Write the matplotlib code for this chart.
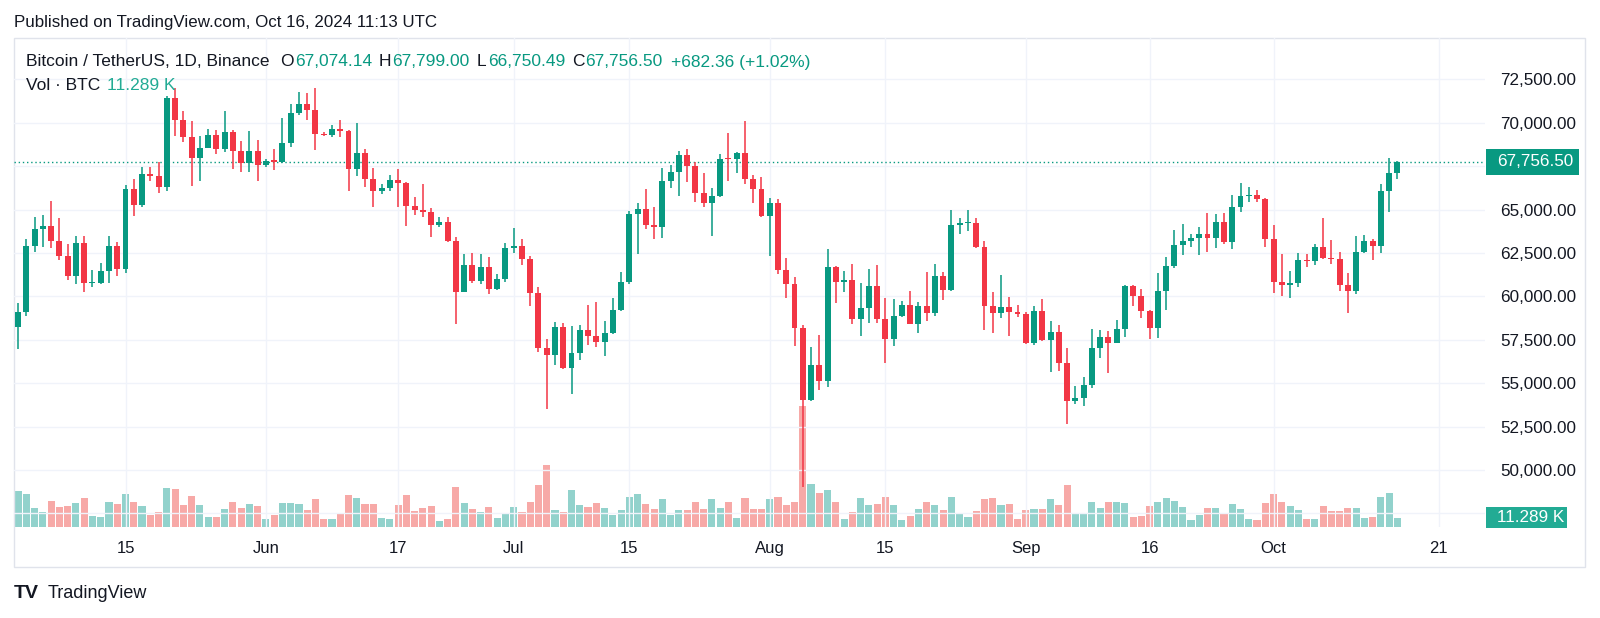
import pandas as pd
import matplotlib
matplotlib.use("Agg")
import matplotlib.pyplot as plt
import matplotlib.dates as mdates
from matplotlib.patches import Rectangle
from matplotlib.ticker import FuncFormatter

plt.rcParams['font.family'] = ['Liberation Sans', 'DejaVu Sans']

# BTC/USDT daily candles, May 2 - Oct 16 2024
start_date = '2024-05-02'
end_date = '2024-10-16'

opens = [58253, 59122, 62889, 63891, 64031, 63161, 62334, 61187, 63049, 60792,
         60793, 61448, 62901, 61552, 66206, 65235, 67024, 66915, 66274, 71446,
         70148, 69166, 67969, 68549, 69291, 68507, 69436, 68398, 67652, 68352,
         67540, 67766, 67765, 68809, 70567, 71082, 70757, 69342, 69305, 69648,
         69540, 67314, 68263, 66773, 66043, 66228, 66676, 66504, 65175, 64974,
         64828, 64096, 64252, 63180, 60277, 61804, 60864, 61706, 60427, 60986,
         62772, 62900, 62135, 60209, 57050, 56628, 58230, 55857, 56714, 58050,
         57725, 57345, 57899, 59230, 60797, 64725, 65044, 64088, 63988, 66661,
         67139, 68166, 67532, 65935, 65354, 65788, 67907, 67896, 68249, 66784,
         66188, 64628, 65354, 61498, 60697, 58161, 54018, 56022, 55134, 61685,
         60837, 60923, 58712, 59346, 60587, 58683, 57541, 58874, 59491, 58427,
         59438, 59013, 61156, 60381, 64103, 64220, 64240, 62834, 59416, 59034,
         59359, 59123, 58973, 57301, 59132, 57487, 57970, 56160, 53962, 54160,
         54869, 57042, 57635, 57338, 58127, 60571, 60005, 59182, 58192, 60309,
         61759, 62947, 63201, 63348, 63578, 63339, 64262, 63152, 65173, 65769,
         65858, 65602, 63327, 60805, 60649, 60752, 62086, 62058, 62819, 62224,
         62160, 60636, 60326, 62540, 63206, 62870, 66083, 67074.14]

highs = [59602, 63320, 64588, 64684, 65494, 64492, 63014, 63474, 63469, 61516,
         61938, 63474, 63110, 66412, 66738, 67468, 67430, 67718, 71515, 71979,
         70674, 70118, 69234, 69618, 69580, 70674, 69580, 68946, 69522, 69004,
         67910, 68486, 70290, 71078, 71788, 71730, 71997, 69484, 69868, 70156,
         69580, 70002, 68466, 67372, 66470, 66988, 67314, 66604, 65702, 66470,
         65068, 64588, 64588, 63398, 62438, 62514, 62438, 62246, 61266, 63090,
         63916, 63282, 62322, 60518, 57542, 58502, 58482, 58290, 58348, 59500,
         59692, 58578, 59884, 61420, 64914, 65394, 66162, 65164, 67372, 67564,
         68390, 68486, 67756, 67084, 66220, 68198, 69399, 68332, 70079, 66988,
         66854, 65682, 65606, 62188, 61132, 58348, 57062, 57772, 62706, 61746,
         61478, 61862, 60748, 61574, 61804, 59884, 59826, 59750, 60326, 59692,
         61420, 61862, 61420, 64972, 64530, 64972, 64492, 63206, 60268, 61228,
         59980, 59500, 59116, 59442, 59826, 58578, 58348, 57042, 54854, 55372,
         58118, 58060, 58002, 58636, 60652, 60652, 60402, 59212, 61362, 62284,
         63820, 64166, 63590, 64012, 64780, 64722, 64818, 65836, 66508, 66278,
         66124, 65644, 64108, 62418, 61458, 62514, 62438, 63014, 64530, 63244,
         62572, 61362, 63474, 63532, 63282, 66470, 67986, 67799.00]

lows = [56937, 58848, 62572, 62860, 62764, 62092, 60940, 60690, 60230, 60518,
        60690, 60786, 61170, 61362, 64626, 65164, 66642, 65932, 66066, 69234,
        68908, 66354, 66642, 68524, 68198, 68332, 67314, 67180, 67180, 66662,
        67430, 67276, 67660, 68620, 70444, 70156, 68428, 69254, 69158, 69196,
        66066, 66930, 66278, 65126, 65894, 66086, 65164, 64070, 64684, 64588,
        63436, 63974, 63100, 58402, 60268, 60748, 60710, 60134, 60364, 60806,
        62514, 61804, 59442, 56812, 53485, 56044, 55794, 54354, 56332, 57196,
        57100, 56562, 57810, 59174, 60690, 62438, 63858, 63282, 63340, 66220,
        65798, 66566, 65452, 65126, 63474, 65740, 66662, 67122, 66450, 65356,
        64588, 62302, 61286, 59922, 57158, 49000, 53990, 54604, 54796, 59596,
        60268, 58386, 57714, 58444, 58482, 56178, 57158, 58828, 58406, 57868,
        58598, 58866, 59788, 60326, 63590, 63782, 62764, 58060, 57906, 58732,
        57734, 58790, 57254, 57196, 57446, 55660, 55718, 52626, 53798, 53684,
        54700, 56428, 55602, 57292, 57676, 59442, 58732, 57522, 57618, 59212,
        61612, 62380, 62822, 62380, 62572, 62764, 62994, 62706, 64876, 65452,
        65452, 62860, 60210, 60038, 59884, 60518, 61708, 61804, 62130, 61862,
        60326, 59020, 60134, 62514, 62092, 62476, 64876, 66750.49]

closes = [59122, 62889, 63891, 64031, 63161, 62334, 61187, 63049, 60792, 60793,
          61448, 62901, 61552, 66206, 65235, 67024, 66915, 66274, 71446, 70148,
          69166, 67969, 68549, 69291, 68507, 69436, 68398, 67652, 68352, 67540,
          67766, 67765, 68809, 70567, 71082, 70757, 69342, 69305, 69648, 69540,
          67314, 68263, 66773, 66043, 66228, 66676, 66504, 65175, 64974, 64828,
          64096, 64252, 63180, 60277, 61804, 60864, 61706, 60427, 60986, 62772,
          62900, 62135, 60209, 57050, 56628, 58230, 55857, 56714, 58050, 57725,
          57345, 57899, 59230, 60797, 64725, 65044, 64088, 63988, 66661, 67139,
          68166, 67532, 65935, 65354, 65788, 67907, 67896, 68249, 66784, 66188,
          64628, 65354, 61498, 60697, 58161, 54018, 56022, 55134, 61685, 60837,
          60923, 58712, 59346, 60587, 58683, 57541, 58874, 59491, 58427, 59438,
          59013, 61156, 60381, 64103, 64220, 64240, 62834, 59416, 59034, 59359,
          59123, 58973, 57301, 59132, 57487, 57970, 56160, 53962, 54160, 54869,
          57042, 57635, 57338, 58127, 60571, 60005, 59182, 58192, 60309, 61759,
          62947, 63201, 63348, 63578, 63339, 64262, 63152, 65173, 65769, 65858,
          65602, 63327, 60805, 60649, 60752, 62086, 62058, 62819, 62224, 62160,
          60636, 60326, 62540, 63206, 62870, 66083, 67074.14, 67756.50]

# volume in thousands of BTC
volumes = [43.5, 39.9, 22.6, 17.7, 31.8, 23.8, 25.4, 28.6, 34.7, 13.7,
           12.5, 30.6, 27.4, 39.9, 29.8, 25.4, 14.5, 17.7, 46.7, 45.5,
           26.6, 37.9, 26.2, 12.5, 12.5, 21.4, 30.6, 23.4, 27.4, 25.4,
           9.3, 14.5, 28.6, 28.6, 27.4, 20.6, 33.4, 10.1, 10.1, 17.3,
           38.7, 34.7, 27.4, 27.4, 11.3, 10.1, 26.2, 38.7, 19.3, 22.6,
           25.4, 7.7, 9.3, 48.0, 29.4, 21.4, 17.7, 23.8, 11.3, 16.5,
           23.8, 17.7, 30.6, 50.4, 74.6, 20.6, 17.7, 44.7, 26.6, 23.8,
           28.6, 22.6, 14.5, 20.2, 36.7, 39.9, 27.4, 21.4, 33.4, 14.5,
           20.2, 20.2, 29.8, 21.4, 33.4, 22.6, 29.8, 11.3, 34.7, 21.4,
           21.4, 33.4, 36.7, 26.2, 29.8, 146.3, 51.6, 41.5, 44.7, 29.8,
           10.1, 17.7, 34.7, 26.6, 27.4, 35.9, 26.2, 8.5, 13.7, 21.4,
           29.8, 26.2, 20.6, 35.9, 16.1, 12.5, 19.3, 33.4, 34.7, 26.6,
           27.4, 9.3, 20.6, 21.4, 21.4, 33.4, 26.2, 50.4, 16.1, 16.1,
           30.6, 22.6, 30.6, 29.8, 28.6, 12.5, 13.7, 25.4, 30.6, 34.7,
           31.8, 23.8, 8.5, 14.5, 22.6, 22.6, 16.5, 27.4, 21.4, 10.1,
           8.5, 28.6, 40.3, 29.8, 25.4, 20.6, 9.3, 9.3, 25.4, 19.3,
           19.3, 22.6, 22.6, 11.3, 12.5, 35.9, 41.5, 11.289]

tick_dates = ['2024-05-15', '2024-06-01', '2024-06-17', '2024-07-01', '2024-07-15',
              '2024-08-01', '2024-08-15', '2024-09-01', '2024-09-16', '2024-10-01',
              '2024-10-21']
tick_labels = ['15', 'Jun', '17', 'Jul', '15', 'Aug', '15', 'Sep', '16', 'Oct', '21']
# 67,500 is covered by the last price tag, 47,500 by the volume tag
price_ticks = [50000, 52500, 55000, 57500, 60000, 62500, 65000, 70000, 72500]
grid_only_ticks = [47500, 67500]

GREEN = '#089981'
RED = '#f23645'
VOL_GREEN = '#92d2cc'
VOL_RED = '#f7a9a7'
TXT = '#131722'

W, H = 1600, 618
fig = plt.figure(figsize=(W / 100, H / 100), dpi=100)
fig.patch.set_facecolor('white')

def ftext(x, y, s, **kw):
    fig.text(x / W, 1 - y / H, s, va='center', **kw)

# pane: x 14..1485, y 38..527 (pixels)
ax = fig.add_axes([14 / W, 1 - 527 / H, 1471 / W, 489 / H])
vax = ax.twinx()

dates = pd.date_range(start_date, end_date, freq='D')
x = mdates.date2num(dates)

up = [c >= o for o, c in zip(opens, closes)]
ccol = [GREEN if u else RED for u in up]
vcol = [VOL_GREEN if u else VOL_RED for u in up]

# volume overlay
vax.bar(x, [v * 1000 for v in volumes], width=0.86, color=vcol, linewidth=0)
vax.set_ylim(0, 591700)
vax.set_yticks([])
for s in vax.spines.values():
    s.set_visible(False)

# candles
ax.vlines(x, lows, highs, colors=ccol, linewidth=1.1, zorder=3)
bottoms = [min(o, c) for o, c in zip(opens, closes)]
heights = [max(abs(c - o), 60) for o, c in zip(opens, closes)]
ax.bar(x, heights, bottom=bottoms, width=0.72, color=ccol, linewidth=0, zorder=4)

ax.set_zorder(vax.get_zorder() + 1)
ax.patch.set_visible(False)

ax.set_xlim(x[0] - 0.5, x[0] + 177.6)
ax.set_ylim(46712, 74879)

ax.set_xticks(mdates.date2num(pd.to_datetime(tick_dates)))
ax.set_xticklabels(tick_labels)
ax.set_yticks(price_ticks)
ax.set_yticks(grid_only_ticks, minor=True)
ax.yaxis.set_major_formatter(FuncFormatter(lambda v, p: f"{v:,.2f}"))
ax.yaxis.tick_right()
ax.grid(True, which='both', color='#f0f3fa', linewidth=1)
ax.set_axisbelow(True)
ax.tick_params(axis='y', which='both', length=0, pad=11, labelsize=12.3, labelcolor=TXT)
ax.tick_params(axis='x', length=0, pad=10, labelsize=12, labelcolor=TXT)
for s in ax.spines.values():
    s.set_visible(False)

# last price line
ax.axhline(closes[-1], color=GREEN, linestyle=(0, (1, 2)), linewidth=1, zorder=2)


def px_y(axis, value):
    # pixel row (from top) of a value on the given axis
    return H - axis.transData.transform((x[0], value))[1]


def tag(y_center, x0, x1, h, text, color):
    fig.add_artist(Rectangle((x0 / W, 1 - (y_center + h / 2) / H), (x1 - x0) / W, h / H,
                             transform=fig.transFigure, facecolor=color, edgecolor='none', zorder=5))
    fig.text((x0 + 11) / W, 1 - y_center / H, text, color='white', fontsize=12.3,
             va='center', ha='left', zorder=6)


tag(px_y(ax, closes[-1]), 1486, 1579, 26, f"{closes[-1]:,.2f}", GREEN)
tag(px_y(vax, volumes[-1] * 1000), 1486, 1567, 21, f"{volumes[-1]:.3f} K", '#22ab94')

# frame
fig.add_artist(Rectangle((14 / W, 1 - 567 / H), 1571 / W, 529 / H, transform=fig.transFigure,
                         fill=False, edgecolor='#e0e3eb', linewidth=1))

# header texts
ftext(14, 22, "Published on TradingView.com, Oct 16, 2024 11:13 UTC", fontsize=12.2, color=TXT)
ftext(26, 62, "Bitcoin / TetherUS, 1D, Binance", fontsize=12.5, color=TXT)
chg = closes[-1] - opens[-1]
pct = chg / opens[-1] * 100
ftext(280, 62, "O", fontsize=12.5, color=TXT)
ftext(295, 62, f"{opens[-1]:,.2f}", fontsize=12.5, color=GREEN)
ftext(379, 62, "H", fontsize=12.5, color=TXT)
ftext(392, 62, f"{highs[-1]:,.2f}", fontsize=12.5, color=GREEN)
ftext(477, 62, "L", fontsize=12.5, color=TXT)
ftext(488, 62, f"{lows[-1]:,.2f}", fontsize=12.5, color=GREEN)
ftext(572, 62, "C", fontsize=12.5, color=TXT)
ftext(585, 62, f"{closes[-1]:,.2f}", fontsize=12.5, color=GREEN)
ftext(671, 62, f"+{chg:,.2f} (+{pct:.2f}%)", fontsize=12.5, color=GREEN)
ftext(26, 86, "Vol · BTC", fontsize=12.5, color=TXT)
ftext(107, 86, f"{volumes[-1]:.3f} K", fontsize=12.5, color='#22ab94')

# footer logo
ftext(14, 593, "TV", fontsize=14, color=TXT, weight='heavy')
ftext(48, 593, "TradingView", fontsize=13, color=TXT)

fig.savefig("out.png", dpi=100)
